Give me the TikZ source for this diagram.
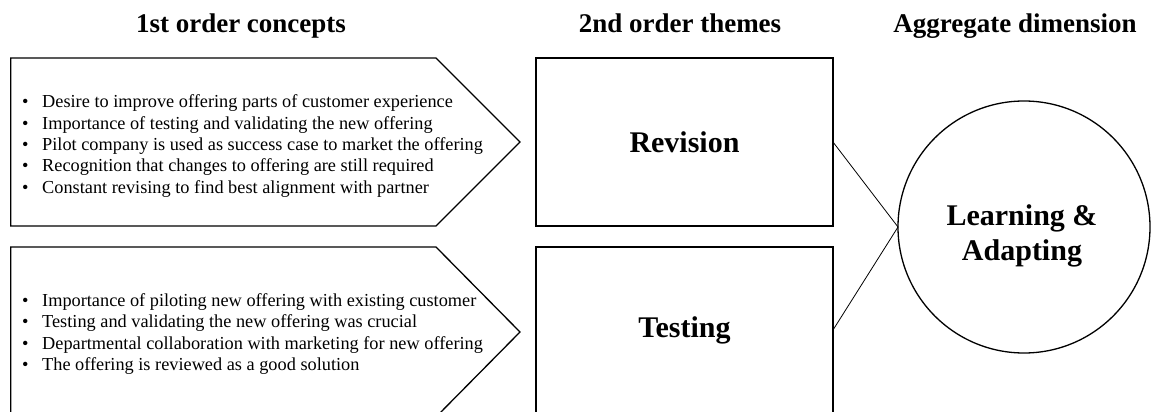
\documentclass[tikz,border=0pt]{standalone}
\usepackage{fontspec}
\setmainfont{Liberation Serif}
\newcommand{\bitem}[1]{\makebox[20pt][l]{\textbullet}#1}
\begin{document}
\begin{tikzpicture}[x=1pt,y=-1pt,
  hdr/.style={font=\fontsize{27}{32}\selectfont\bfseries, anchor=base, inner sep=0},
  themebox/.style={draw, line width=1.3pt, inner sep=0, outer sep=0,
    minimum width=297pt, font=\fontsize{30}{35}\selectfont\bfseries},
  aggcircle/.style={draw, circle, line width=1.3pt, inner sep=0, outer sep=0,
    minimum size=252pt},
  aggtext/.style={align=center, inner sep=0, font=\fontsize{30}{35}\selectfont\bfseries},
  pent/.style={draw, line width=1.3pt, line join=miter},
  conn/.style={line width=0.8pt},
  bullets/.style={anchor=west, inner sep=0, align=left, font=\fontsize{18.3}{21.3}\selectfont}]
\useasboundingbox (0,0) rectangle (1152,412);

% headers
\node[hdr] (h1) at (241,33) {1st order concepts};
\node[hdr] (h2) at (680,33) {2nd order themes};
\node[hdr] (h3) at (1015,33) {Aggregate dimension};

% first order concepts (pentagon arrows)
\draw[pent] (10.7,58) -- (436,58) -- (520,142) -- (436,226) -- (10.7,226) -- cycle;
\node[bullets] (c1) at (22,146) {%
\bitem{Desire to improve offering parts of customer experience}\\
\bitem{Importance of testing and validating the new offering}\\
\bitem{Pilot company is used as success case to market the offering}\\
\bitem{Recognition that changes to offering are still required}\\
\bitem{Constant revising to find best alignment with partner}};

\draw[pent] (10.7,247) -- (436,247) -- (520,332) -- (436,417) -- (10.7,417) -- cycle;
\node[bullets] (c2) at (22,334) {%
\bitem{Importance of piloting new offering with existing customer}\\
\bitem{Testing and validating the new offering was crucial}\\
\bitem{Departmental collaboration with marketing for new offering}\\
\bitem{The offering is reviewed as a good solution}};

% second order themes
\node[themebox, minimum height=168pt] (rev) at (684.5,142) {Revision};
\node[themebox, minimum height=166pt] (test) at (684.5,330) {Testing};

% aggregate dimension
\node[aggcircle] (agg) at (1024,227) {};
\node[aggtext] (aggt) at (1022,236) {Learning \&\\Adapting};

% connectors
\draw[conn] (rev.east) -- (agg.west);
\draw[conn] (test.east) -- (agg.west);
\end{tikzpicture}
\end{document}
